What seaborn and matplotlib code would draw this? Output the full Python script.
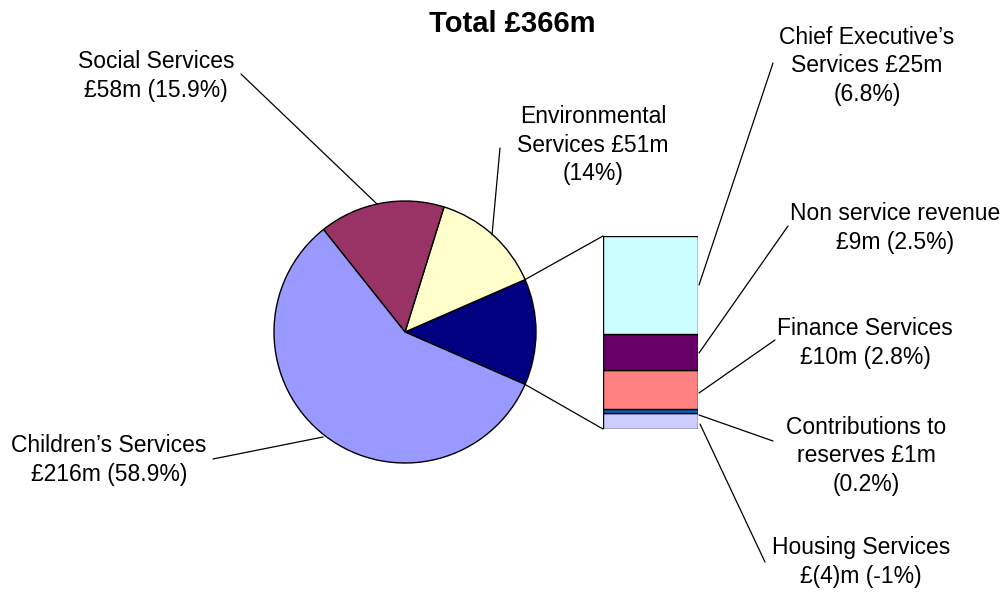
import numpy as np
import matplotlib
matplotlib.use("Agg")
import matplotlib.pyplot as plt
from matplotlib.patches import ConnectionPatch
import seaborn as sns

# ---- data ----
title = "Total £366m"
pie_categories = ["Children’s Services", "Social Services", "Environmental Services"]
pie_values = [216, 58, 51]
pie_label_text = ["Children’s Services\n£216m (58.9%)",
                  "Social Services\n£58m (15.9%)",
                  "Environmental\nServices £51m\n(14%)"]
bar_categories = ["Chief Executive’s Services", "Non service revenue", "Finance Services",
                  "Contributions to reserves", "Housing Services"]
bar_values = [25, 9, 10, 1, -4]
bar_label_text = ["Chief Executive’s\nServices £25m\n(6.8%)",
                  "Non service revenue\n£9m (2.5%)",
                  "Finance Services\n£10m (2.8%)",
                  "Contributions to\nreserves £1m\n(0.2%)",
                  "Housing Services\n£(4)m (-1%)"]

pie_colors = ["#9999FF", "#993366", "#FFFFCC"]
other_color = "#000080"
bar_colors = ["#CCFFFF", "#660066", "#FF8080", "#0066CC", "#CCCCFF"]

sns.set_style("white")
plt.rcParams["font.family"] = ["Liberation Sans", "DejaVu Sans"]
plt.rcParams["text.color"] = "black"

W, H = 1006, 594
fig = plt.figure(figsize=(W / 100, H / 100), dpi=100)
ax = fig.add_axes([0, 0, 1, 1])

def py(y):
    return H - y

other_total = sum(abs(v) for v in bar_values)
wedge_vals = [other_total, pie_values[2], pie_values[1], pie_values[0]]
wedge_cols = [other_color, pie_colors[2], pie_colors[1], pie_colors[0]]
total = sum(wedge_vals)
start = -other_total / total * 360 / 2
cx, cy, r = 405, py(332), 131
wedges, _ = ax.pie(wedge_vals, colors=wedge_cols, startangle=start, counterclock=True,
                   center=(cx, cy), radius=r, frame=True,
                   wedgeprops=dict(edgecolor="black", linewidth=1.0))
ax.set_xlim(0, W)
ax.set_ylim(0, H)
ax.set_aspect("auto")
ax.axis("off")

# ---- bar of the "other" slice ----
bx0, bx1, by_top, by_bot = 603, 698, 236, 429
axb = fig.add_axes([bx0 / W, py(by_bot) / H, (bx1 - bx0) / W, (by_bot - by_top) / H])
abs_vals = [abs(v) for v in bar_values]
bottom = 0
for v, c in zip(reversed(abs_vals), reversed(bar_colors)):
    axb.bar(0, v, bottom=bottom, width=1.0, color=c, edgecolor="black", linewidth=1.0)
    bottom += v
axb.set_xlim(-0.5, 0.5)
axb.set_ylim(0, bottom)
axb.axis("off")

# connectors from the other wedge to the bar
ow = wedges[0]
for ang, yb in [(ow.theta2, bottom), (ow.theta1, 0)]:
    p = (cx + r * np.cos(np.radians(ang)), cy + r * np.sin(np.radians(ang)))
    con = ConnectionPatch(xyA=p, coordsA=ax.transData, xyB=(-0.5, yb), coordsB=axb.transData,
                          color="black", linewidth=0.9)
    fig.add_artist(con)

fs = 16.5
ls = 1.3
ax.text(512, py(24), title, ha="center", va="center", fontsize=21, fontweight="bold")

# pie labels: (text centre), (leader start), (leader end)
pie_layout = [((109, 460), (213, 459), (323, 437)),
              ((156, 76), (241, 74), (377, 204)),
              ((593, 145), (500, 148), (492, 235))]
for txt, (tc, l0, l1) in zip(pie_label_text, pie_layout):
    ax.text(tc[0], py(tc[1]), txt, ha="center", va="center", fontsize=fs, linespacing=ls)
    ax.plot([l0[0], l1[0]], [py(l0[1]), py(l1[1])], color="black", linewidth=0.9)

bar_layout = [((867, 66), (773, 63), (699, 285)),
              ((895, 228), (788, 226), (699, 353)),
              ((865, 343), (775, 340), (699, 393)),
              ((866, 456), (773, 441), (699, 415)),
              ((861, 562), (765, 562), (700, 424))]
for txt, (tc, l0, l1) in zip(bar_label_text, bar_layout):
    ax.text(tc[0], py(tc[1]), txt, ha="center", va="center", fontsize=fs, linespacing=ls)
    ax.plot([l0[0], l1[0]], [py(l0[1]), py(l1[1])], color="black", linewidth=0.9)

fig.savefig("out.png", dpi=100, facecolor="white")
